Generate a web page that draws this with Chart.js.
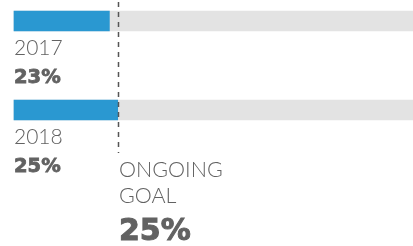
<!DOCTYPE html>
<html>
<head>
<meta charset="utf-8">
<script src="https://cdn.jsdelivr.net/npm/chart.js@4"></script>
<style>
html,body{margin:0;padding:0;background:#fff;}
#wrap{width:413px;height:246px;position:relative;}
</style>
</head>
<body>
<div id="wrap"><canvas id="c" width="413" height="246"></canvas></div>
<script>
const categories = ['2017', '2018'];
const values = [23, 25];
const valueLabels = ['23%', '25%'];
const trackValues = [100, 100];
const goalValue = 25;
const goalLines = ['ONGOING', 'GOAL'];
const goalLabel = '25%';

const BLUE = '#2a98d1';
const TRACK = '#e3e3e3';
const TEXT = '#626262';

const labelPlugin = {
  id: 'labels',
  afterDatasetsDraw(chart) {
    const ctx = chart.ctx;
    const xs = chart.scales.x, ys = chart.scales.y;
    const x0 = xs.getPixelForValue(0);
    ctx.save();
    ctx.fillStyle = TEXT;
    ctx.strokeStyle = TEXT;
    ctx.textBaseline = 'alphabetic';
    ctx.textAlign = 'left';
    categories.forEach((c, i) => {
      const yc = ys.getPixelForValue(i);
      ctx.font = '300 21px Lato';
      ctx.fillText(c, x0, yc + 34);
      ctx.font = 'bold 19.5px "DejaVu Sans"';
      ctx.lineWidth = 0.8;
      ctx.fillText(valueLabels[i], x0, yc + 62);
      ctx.strokeText(valueLabels[i], x0, yc + 62);
    });
    // goal dashed line
    const gx = Math.round(xs.getPixelForValue(goalValue)) + 0.5;
    const yLast = ys.getPixelForValue(categories.length - 1);
    ctx.strokeStyle = '#555';
    ctx.lineWidth = 1.5;
    ctx.setLineDash([5, 5]);
    ctx.beginPath();
    ctx.moveTo(gx, 2);
    ctx.lineTo(gx, yLast + 43);
    ctx.stroke();
    ctx.setLineDash([]);
    ctx.font = '300 21.5px Lato';
    ctx.fillText(goalLines[0], gx + 0.5, yLast + 67);
    ctx.fillText(goalLines[1], gx + 0.5, yLast + 93);
    ctx.font = 'bold 30px "DejaVu Sans"';
    ctx.strokeStyle = TEXT;
    ctx.lineWidth = 1;
    ctx.fillText(goalLabel, gx + 0.5, yLast + 130);
    ctx.strokeText(goalLabel, gx + 0.5, yLast + 130);
    ctx.restore();
  }
};

new Chart(document.getElementById('c'), {
  type: 'bar',
  data: {
    labels: categories,
    datasets: [
      { data: values, backgroundColor: BLUE, barThickness: 20, grouped: false, order: 0, clip: false },
      { data: trackValues, backgroundColor: TRACK, barThickness: 20, grouped: false, order: 1, clip: false }
    ]
  },
  options: {
    indexAxis: 'y',
    responsive: false,
    animation: false,
    devicePixelRatio: 1,
    layout: { padding: { left: 14, right: 0, top: 21, bottom: 136 } },
    plugins: { legend: { display: false }, tooltip: { enabled: false } },
    scales: {
      x: { display: false, min: 0, max: 96.2 },
      y: { display: false, offset: false }
    }
  },
  plugins: [labelPlugin]
});
</script>
</body>
</html>
